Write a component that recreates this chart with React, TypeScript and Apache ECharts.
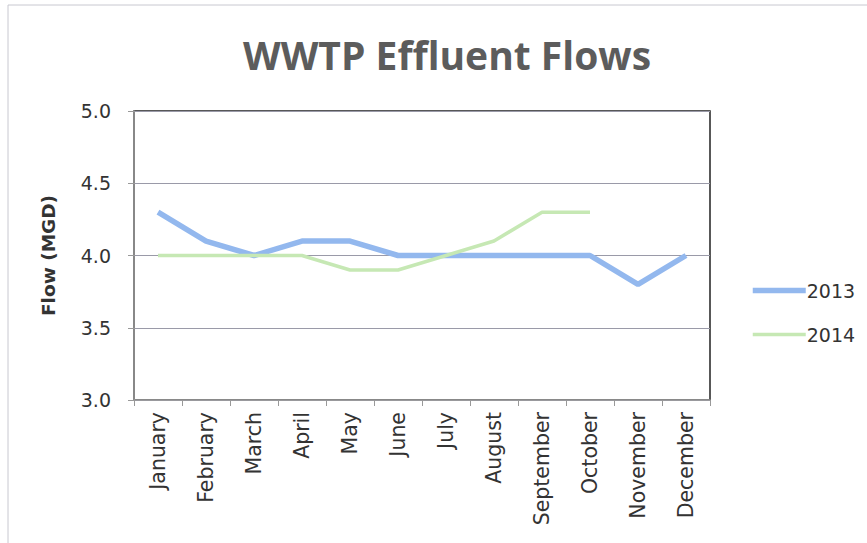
import React, { useEffect, useRef } from "react";
import * as echarts from "echarts";

const months = [
  "January", "February", "March", "April", "May", "June",
  "July", "August", "September", "October", "November", "December",
];
const flow2013 = [4.3, 4.1, 4.0, 4.1, 4.1, 4.0, 4.0, 4.0, 4.0, 4.0, 3.8, 4.0];
const flow2014 = [4.0, 4.0, 4.0, 4.0, 3.9, 3.9, 4.0, 4.1, 4.3, 4.3, null, null];
const seriesNames = ["2013", "2014"];
const seriesColors = ["#93b8ee", "#c6e8b4"];
const seriesWidths = [5.5, 3.5];

export default function App() {
  const ref = useRef<HTMLDivElement>(null);
  useEffect(() => {
    if (!ref.current) return;
    const chart = echarts.init(ref.current, null, { renderer: "svg" });
    const font = "'DejaVu Sans', sans-serif";
    const titleFont = "'Open Sans', 'Noto Sans', sans-serif";
    chart.setOption({
      animation: false,
      backgroundColor: "#ffffff",
      textStyle: { fontFamily: font },
      title: {
        text: "WWTP Effluent Flows",
        left: 442,
        textAlign: "center",
        top: 30,
        textStyle: { fontSize: 39, fontWeight: "bold", color: "#5c5c5c", fontFamily: titleFont },
      },
      graphic: [
        {
          type: "rect",
          shape: { x: 8, y: 5, width: 900, height: 600 },
          style: { fill: "none", stroke: "#c8c8d0", lineWidth: 1 },
          silent: true,
        },
      ],
      legend: {
        orient: "vertical",
        left: 745,
        top: 276,
        itemWidth: 53,
        itemHeight: 14,
        itemGap: 25,
        data: seriesNames.map((n, i) => ({
          name: n,
          lineStyle: { width: seriesWidths[i], color: seriesColors[i] },
        })),
        itemStyle: { opacity: 0 },
        textStyle: { fontSize: 19, color: "#333", fontFamily: font, padding: [0, 0, 0, -4] },
      },
      grid: {
        left: 134,
        right: 157,
        top: 111,
        bottom: 143,
        show: true,
        borderColor: "#222",
        borderWidth: 1.5,
      },
      xAxis: {
        type: "category",
        data: months,
        boundaryGap: true,
        axisLine: { lineStyle: { color: "#999", width: 1.5 } },
        axisTick: { show: true, length: 6, lineStyle: { color: "#999" } },
        axisLabel: { rotate: 90, fontSize: 20.5, color: "#333", margin: 12, fontFamily: font },
      },
      yAxis: {
        type: "value",
        min: 3,
        max: 5,
        interval: 0.5,
        name: "Flow (MGD)",
        nameLocation: "middle",
        nameGap: 76,
        nameTextStyle: { fontSize: 18.5, fontWeight: "bold", color: "#333", fontFamily: font },
        axisLine: { show: true, lineStyle: { color: "#999", width: 1.5 } },
        axisTick: { show: true, length: 6, lineStyle: { color: "#999" } },
        axisLabel: {
          fontSize: 19,
          color: "#333",
          margin: 23,
          formatter: (v: number) => v.toFixed(1),
          fontFamily: font,
        },
        splitLine: { lineStyle: { color: "#9a9aa8", width: 1.2 } },
      },
      series: [
        {
          name: seriesNames[0],
          type: "line",
          data: flow2013,
          symbol: "none",
          lineStyle: { color: seriesColors[0], width: seriesWidths[0] },
          itemStyle: { color: seriesColors[0] },
          z: 2,
        },
        {
          name: seriesNames[1],
          type: "line",
          data: flow2014,
          symbol: "none",
          lineStyle: { color: seriesColors[1], width: seriesWidths[1] },
          itemStyle: { color: seriesColors[1] },
          z: 3,
        },
      ],
    });
    return () => chart.dispose();
  }, []);
  return (
    <div
      ref={ref}
      style={{ position: "fixed", left: 0, top: 0, width: 867, height: 543 }}
    />
  );
}
